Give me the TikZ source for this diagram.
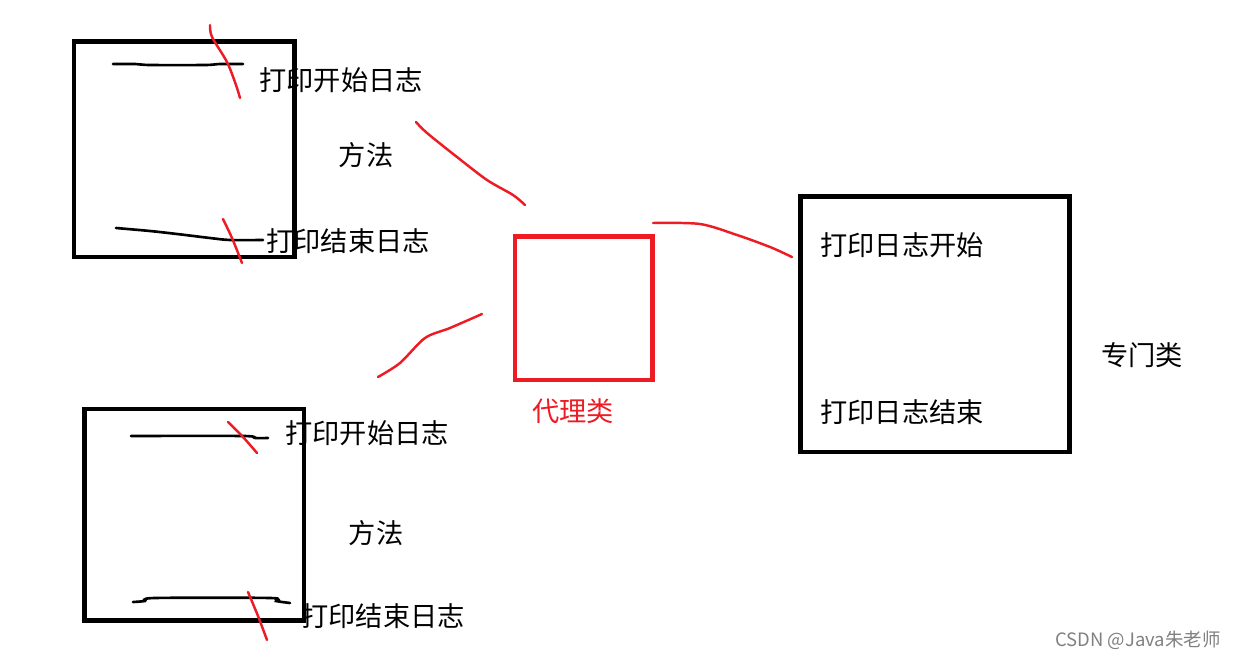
\documentclass[tikz,border=0pt]{standalone}
\usepackage{fontspec}
\setmainfont{Noto Sans CJK SC}
\usetikzlibrary{positioning}

\definecolor{paintred}{RGB}{237,28,36}

\begin{document}
\begin{tikzpicture} [x = 0.02cm, y = -0.02cm,
    box/.style = {line width = 2.7pt},
    pen/.style = {line width = 1.5pt, line cap = round},
    redpen/.style = {paintred, line width = 1.4pt, line cap = round},
    label/.style = {font = \fontsize{15.5pt}{18pt}\selectfont, inner sep = 0pt}]

\useasboundingbox (0,0) rectangle (1238,659);

% method box, top
\draw [box] (74,41.5) rectangle (294.5,257);
\draw [pen] plot [smooth] coordinates {(113,64) (135,64) (150,65) (205,65) (220,64) (243,64)};
\draw [pen] plot [smooth] coordinates {(116,228) (150,231) (177,234) (210,238) (230,240) (263,240)};
\draw [redpen] plot [smooth] coordinates {(210,25) (212,37) (227,62) (236,85) (240,98)};
\draw [redpen] plot [smooth] coordinates {(223,219) (232,238) (242,263)};

\node (start1) [label] at (341,80) {打印开始日志};
\node (method1) [label] at (366,155) {方法};
\node (end1) [label] at (348,241) {打印结束日志};

% method box, bottom
\draw [box] (84.5,409) rectangle (304,620.5);
\draw [pen] plot [smooth] coordinates {(131,436) (243,436) (255,438) (268,438)};
\draw [pen] plot [smooth] coordinates {(133,602) (145,601) (155,598) (270,598) (276,601) (290,603)};
\draw [redpen] plot [smooth] coordinates {(228,422) (243,437) (257,453)};
\draw [redpen] plot [smooth] coordinates {(248,592) (258,616) (267,640)};

\node (start2) [label] at (367,433) {打印开始日志};
\node (method2) [label] at (376,533) {方法};
\node (end2) [label] at (383,616) {打印结束日志};

% proxy
\draw [box, paintred] (515,236.5) rectangle (652.5,380);
\node (proxy) [label, paintred] at (573,411) {代理类};

% strokes to the proxy
\draw [redpen] plot [smooth] coordinates {(416,122) (427,133) (457,157) (487,180) (513,195) (525,205)};
\draw [redpen] plot [smooth] coordinates {(378,377) (400,363) (425,338) (450,328) (482,314)};
\draw [redpen] plot [smooth] coordinates {(653,223) (700,224) (737,235) (770,247) (792,257)};

% special class
\draw [box] (800.5,196.5) rectangle (1069.5,452);
\node (logstart) [label] at (902,245) {打印日志开始};
\node (logend) [label] at (902,412) {打印日志结束};
\node (special) [label] at (1142,355) {专门类};

% watermark
\node (mark) [font = \fontsize{10.5pt}{12pt}\selectfont, gray, inner sep = 0pt] at (1138,640) {CSDN @Java朱老师};

\end{tikzpicture}
\end{document}
